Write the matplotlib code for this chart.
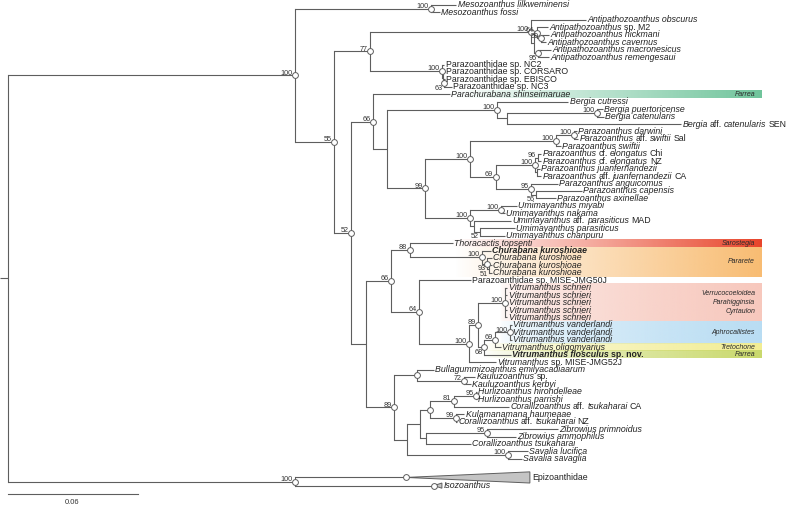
import re
import numpy as np
import matplotlib
matplotlib.use("Agg")
import matplotlib.pyplot as plt
from matplotlib.colors import to_rgb

# ---------------- data ----------------
# tip labels (markup: _italic_, *bold*)
TIP_LABELS = [
    "_Mesozoanthus lilkweminensi_", "_Mesozoanthus fossi_",
    "_Antipathozoanthus obscurus_", "_Antipathozoanthus_ sp. M2",
    "_Antipathozoanthus hickmani_", "_Antipathozoanthus cavernus_",
    "_Antipathozoanthus macronesicus_", "_Antipathozoanthus remengesaui_",
    "Parazoanthidae sp. NC2", "Parazoanthidae sp. CORSARO",
    "Parazoanthidae sp. EBISCO", "Parazoanthidae sp. NC3",
    "_Parachurabana shinseimaruae_",
    "_Bergia cutressi_", "_Bergia puertoricense_", "_Bergia catenularis_",
    "_Bergia_ aff. _catenularis_ SEN",
    "_Parazoanthus darwini_", "_Parazoanthus_ aff. _swiftii_ Sal", "_Parazoanthus swiftii_",
    "_Parazoanthus_ cf. _elongatus_ Chi", "_Parazoanthus_ cf. _elongatus_ NZ",
    "_Parazoanthus juanfernandezii_", "_Parazoanthus_ aff. _juanfernandezii_ CA",
    "_Parazoanthus anguicomus_", "_Parazoanthus capensis_", "_Parazoanthus axinellae_",
    "_Umimayanthus miyabi_", "_Umimayanthus nakama_",
    "_Umimayanthus_ aff. _parasiticus_ MAD", "_Umimayanthus parasiticus_",
    "_Umimayanthus chanpuru_",
    "_Thoracactis topsenti_",
    "*_Churabana kuroshioae_*", "_Churabana kuroshioae_",
    "_Churabana kuroshioae_", "_Churabana kuroshioae_",
    "Parazoanthidae sp. MISE-JMG50J",
    "_Vitrumanthus schrieri_", "_Vitrumanthus schrieri_", "_Vitrumanthus schrieri_",
    "_Vitrumanthus schrieri_", "_Vitrumanthus schrieri_",
    "_Vitrumanthus vanderlandi_", "_Vitrumanthus vanderlandi_", "_Vitrumanthus vanderlandi_",
    "_Vitrumanthus oligomyarius_", "*_Vitrumanthus flosculus_ sp. nov.*",
    "_Vitrumanthus_ sp. MISE-JMG52J",
    "_Bullagummizoanthus emilyacadiaarum_", "_Kauluzoanthus_ sp.", "_Kauluzoanthus kerbyi_",
    "_Hurlizoanthus hirondelleae_", "_Hurlizoanthus parrishi_",
    "_Corallizoanthus_ aff. _tsukaharai_ CA",
    "_Kulamanamana haumeaae_", "_Corallizoanthus_ aff. _tsukaharai_ NZ",
    "_Zibrowius primnoidus_", "_Zibrowius ammophilus_", "_Corallizoanthus tsukaharai_",
    "_Savalia lucifica_", "_Savalia savaglia_",
    "Epizoanthidae", "_Isozoanthus_",
]

# tip depth from root (substitutions / site)
TIP_DEPTH = [
    0.2070, 0.1996, 0.2670, 0.2494, 0.2499, 0.2485, 0.2508, 0.2499,
    0.2016, 0.2019, 0.2019, 0.2051, 0.2042,
    0.2587, 0.2748, 0.2753, 0.3108,
    0.2628, 0.2633, 0.2554, 0.2462, 0.2462, 0.2457, 0.2462,
    0.2540, 0.2651, 0.2531,
    0.2351, 0.2296, 0.2323, 0.2342, 0.2296,
    0.2056, 0.2231, 0.2236, 0.2236, 0.2236,
    0.2139, 0.2307, 0.2307, 0.2307, 0.2307, 0.2307,
    0.2328, 0.2328, 0.2328, 0.2277, 0.2323, 0.2254,
    0.1968, 0.2157, 0.2139, 0.2166, 0.2166, 0.2314,
    0.2107, 0.2074, 0.2540, 0.2347, 0.2139, 0.2402, 0.2374,
    0.1839, 0.1968,
]
# tip row positions (collapsed clades at bottom take extra room)
TIP_ROW = list(range(62)) + [63.5, 64.6]
# collapsed clades: tip index -> (depth of farthest tip, half height in rows)
COLLAPSED = {62: (0.2411, 0.75), 63: (0.2005, 0.35)}


def N(depth, support, *children, below=False, circle=None):
    return {"depth": depth, "support": support, "children": list(children),
            "below": below,
            "circle": (support is not None) if circle is None else circle}


TREE = N(0.0, None,
  N(0.1327, 100,
    N(0.1954, 100, 0, 1),
    N(0.1507, 55,
      N(0.1673, 77,
        N(0.2416, 100, 2,
          N(0.2430, None,
            N(0.2443, 64, 3, N(0.2462, 59, 4, 5)),
            N(0.2448, 95, 6, 7, below=True))),
        N(0.2005, 100, 8, N(0.2010, None, 9, N(0.2014, 63, 10, 11, below=True)))),
      N(0.1585, 52,
        N(0.1687, 66, 12,
          N(0.1751, None,
            N(0.2259, 100, 13, N(0.2305, None, N(0.2720, 100, 14, 15), 16)),
            N(0.1927, 99,
              N(0.2134, 100,
                N(0.2531, 100, N(0.2614, 100, 17, 18), 19),
                N(0.2254, 69,
                  N(0.2434, 100, N(0.2448, 96, 20, 21, circle=False), N(0.2443, None, 22, 23)),
                  N(0.2416, 95, 24, N(0.2439, 56, 25, 26, below=True, circle=False)))),
              N(0.2134, 100,
                N(0.2277, 100, 27, 28),
                N(0.2153, None, 29, N(0.2180, 52, 30, 31, below=True, circle=False)))))),
        N(0.1654, None,
          N(0.1770, 66,
            N(0.1857, 88, 32,
              N(0.2190, 100, 33,
                N(0.2213, 93, 34, N(0.2222, 51, 35, 36, below=True, circle=False), below=True))),
            N(0.1899, 64, 37,
              N(0.2130, 100,
                N(0.2171, 89,
                  N(0.2296, 100, 38, 39, 40, 41, 42),
                  N(0.2199, 68,
                    N(0.2250, 69, N(0.2319, 100, 43, 44, 45), 46),
                    47, below=True)),
                48))),
          N(0.1784, 89,
            N(0.1890, None, 49, N(0.2107, 72, 50, 51), circle=True),
            N(0.1844, None,
              N(0.1904, None,
                N(0.1950, None,
                  N(0.2060, 81, N(0.2162, 95, 52, 53), 54),
                  N(0.2070, 99, 55, 56), circle=True),
                N(0.1931, None, N(0.2213, 95, 57, 58), 59)),
              N(0.2310, 100, 60, 61))))))),
  N(0.1327, 100, 62, 63))

# highlighted label bands: (first row, last row, start px, colour, gamma, labels[(row, text)])
BANDS = [
    (12, 12, 450, "#6fc49b", 1.0, [(12, "Farrea")]),
    (32, 32, 450, "#e8442a", 1.0, [(32, "Sarostegia")]),
    (33, 36, 455, "#f8bc72", 0.9, [(34.5, "Pararete")]),
    (38, 42, 500, "#f7c8bd", 0.45, [(38.8, "Verrucocoeloidea"), (40.05, "Parahigginsia"),
                                    (41.2, "Cyrtaulon")]),
    (43, 45, 500, "#b9ddf3", 0.5, [(44, "Aphrocallistes")]),
    (46, 46, 485, "#f2ed93", 0.6, [(46, "Tretochone")]),
    (47, 47, 485, "#c9d96c", 0.7, [(47, "Farrea")]),
]
SCALE_LEN = 0.06

# ---------------- layout ----------------
W, H, DPI = 790, 507, 100
PX_PER_UNIT = 130 / 0.06
ROOT_PX = 7.5
ROW0_PX, ROW_PX = 5.0, 7.44
FONT = "Liberation Sans"
LINE_C = "#5e5e5e"
TXT_C = "#222222"
TIP_FS = 6.3

fig = plt.figure(figsize=(W / DPI, H / DPI), dpi=DPI)
ax = fig.add_axes([0, 0, 1, 1])
XLIM = (-ROOT_PX / PX_PER_UNIT, (W - ROOT_PX) / PX_PER_UNIT)
YLIM = ((H - ROW0_PX) / ROW_PX, -ROW0_PX / ROW_PX)
ax.set_xlim(*XLIM)
ax.set_ylim(*YLIM)
ax.axis("off")
renderer = fig.canvas.get_renderer()

px = 1.0 / PX_PER_UNIT  # one pixel in data units


def pos(node):
    if isinstance(node, int):
        return TIP_ROW[node], TIP_DEPTH[node]
    ys = [pos(c)[0] for c in node["children"]]
    node["y"] = (ys[0] + ys[-1]) / 2
    return node["y"], node["depth"]


pos(TREE)


def rich(x, y, markup, size, color=TXT_C):
    tokens = re.split(r"([_*])", markup)
    it = bd = False
    inv = ax.transData.inverted()
    xpx = ax.transData.transform((x, y))[0]
    sp = 0.24 * size * DPI / 72
    for tok in tokens:
        if tok == "_":
            it = not it
            continue
        if tok == "*":
            bd = not bd
            continue
        if not tok:
            continue
        lead = len(tok) - len(tok.lstrip(" "))
        trail = len(tok) - len(tok.rstrip(" "))
        core = tok.strip(" ")
        xpx += lead * sp
        if core:
            xd = inv.transform((xpx, 0))[0]
            t = ax.text(xd, y, core, fontsize=size, family=FONT,
                        style="italic" if it else "normal",
                        weight="bold" if bd else "normal",
                        ha="left", va="center", color=color, zorder=5)
            xpx = t.get_window_extent(renderer).x1
        xpx += trail * sp


def hline(x0, x1, y):
    ax.plot([x0, x1], [y, y], color=LINE_C, lw=0.8, solid_capstyle="butt", zorder=2)


def draw(node):
    d, y = node["depth"], node["y"]
    ys = []
    for c in node["children"]:
        cy, cd = pos(c)
        ys.append(cy)
        hline(d, cd, cy)
        if isinstance(c, int):
            if c in COLLAPSED:
                dend, hh = COLLAPSED[c]
                ax.fill([cd, dend, dend], [cy, cy - hh, cy + hh], facecolor="#c4c4c4",
                        edgecolor=LINE_C, lw=0.7, zorder=3)
                ax.plot(cd, cy, "o", ms=4.2, mfc="white", mec=LINE_C, mew=0.7, zorder=4)
                rich(dend + 2 * px, cy, TIP_LABELS[c], TIP_FS)
            else:
                rich(cd + 1.5 * px, cy, TIP_LABELS[c], TIP_FS)
        else:
            draw(c)
    ax.plot([d, d], [ys[0], ys[-1]], color=LINE_C, lw=0.8, zorder=2)
    if node["circle"]:
        ax.plot(d, y, "o", ms=4.2, mfc="white", mec=LINE_C, mew=0.7, zorder=4)
    if node["support"] is not None:
        if node["below"]:
            ax.text(d - 1.0 * px, y + 0.2, str(node["support"]), fontsize=5.2, family=FONT,
                    ha="right", va="top", color="#333333", zorder=5)
        else:
            ax.text(d - 2.5 * px, y - 0.1, str(node["support"]), fontsize=5.2, family=FONT,
                    ha="right", va="baseline", color="#333333", zorder=5)


# root stub
hline(XLIM[0], 0.0, TREE["y"])
draw(TREE)

# bands
band_end = (762 - ROOT_PX) / PX_PER_UNIT
for r0, r1, x0px, col, gam, labels in BANDS:
    x0 = (x0px - ROOT_PX) / PX_PER_UNIT
    ramp = np.linspace(0, 1, 400) ** gam
    img = np.zeros((1, 400, 4))
    img[..., :3] = to_rgb(col)
    img[..., 3] = ramp
    ax.imshow(img, extent=[x0, band_end, r1 + 0.5, r0 - 0.5], aspect="auto",
              interpolation="bilinear", zorder=0)
    for row, txt in labels:
        ax.text(band_end - 7 * px, row, txt, fontsize=5.0, family=FONT, style="italic",
                ha="right", va="center", color="#2a2a2a", zorder=5)

# scale bar
sb_row = (494 - ROW0_PX) / ROW_PX
ax.plot([0, SCALE_LEN], [sb_row, sb_row], color=LINE_C, lw=0.8)
ax.text(SCALE_LEN / 2, sb_row + 1.1, f"{SCALE_LEN:g}", fontsize=5.5, family=FONT,
        ha="center", va="center", color="#333333")

ax.set_xlim(*XLIM)
ax.set_ylim(*YLIM)
fig.savefig("out.png", dpi=DPI, facecolor="white")
